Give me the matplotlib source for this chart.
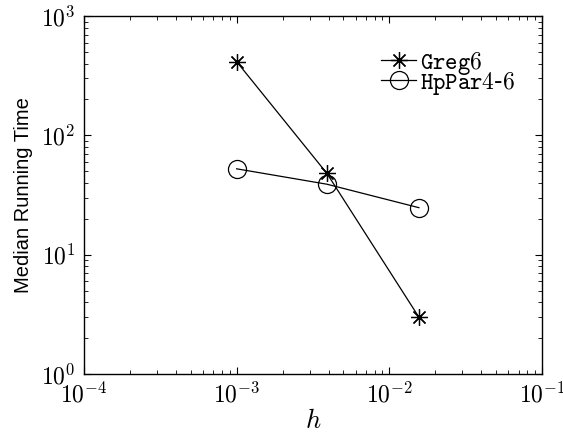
import numpy as np
import matplotlib.pyplot as plt
from matplotlib.ticker import FuncFormatter

plt.rcParams['mathtext.fontset'] = 'cm'

h = [1e-3, 3.9e-3, 1.56e-2]
greg6 = [415, 48, 3.0]
hppar = [52.5, 39, 24.8]

fig = plt.figure(figsize=(5.63, 4.34), dpi=100)
ax = fig.add_axes([0.149, 0.138, 0.814, 0.825])

ax.loglog(h, greg6, color='black', lw=0.9, marker=(8, 2, 0), ms=12, mew=0.9,
          label=r'$\mathtt{Greg6}$')
ax.loglog(h, hppar, color='black', lw=0.9, marker='o', ms=13, mfc='none', mew=0.9,
          label=r'$\mathtt{HpPar4}$-$\mathtt{6}$')

ax.set_xlim(1e-4, 1e-1)
ax.set_ylim(1e0, 1e3)
fmt = FuncFormatter(lambda v, p: r'$10^{%d}$' % round(np.log10(v)))
ax.xaxis.set_major_formatter(fmt)
ax.yaxis.set_major_formatter(fmt)
ax.tick_params(which='both', direction='in', top=True, right=True, labelsize=17)
ax.tick_params(which='major', length=5, width=0.8)
ax.tick_params(which='minor', length=3, width=0.6)
ax.tick_params(axis='y', pad=6)
ax.tick_params(axis='x', pad=6)
for s in ax.spines.values():
    s.set_linewidth(1.0)

ax.set_xlabel(r'$h$', fontsize=19, labelpad=0)
ax.set_ylabel('Median Running Time', fontsize=14.5, family='Liberation Sans', labelpad=6)

leg = ax.legend(loc='upper left', bbox_to_anchor=(0.648, 0.906), frameon=False,
                fontsize=17, handlelength=1.5, handletextpad=0.15, labelspacing=-0.3,
                borderaxespad=0, borderpad=0)

fig.savefig('out.png', dpi=100)
